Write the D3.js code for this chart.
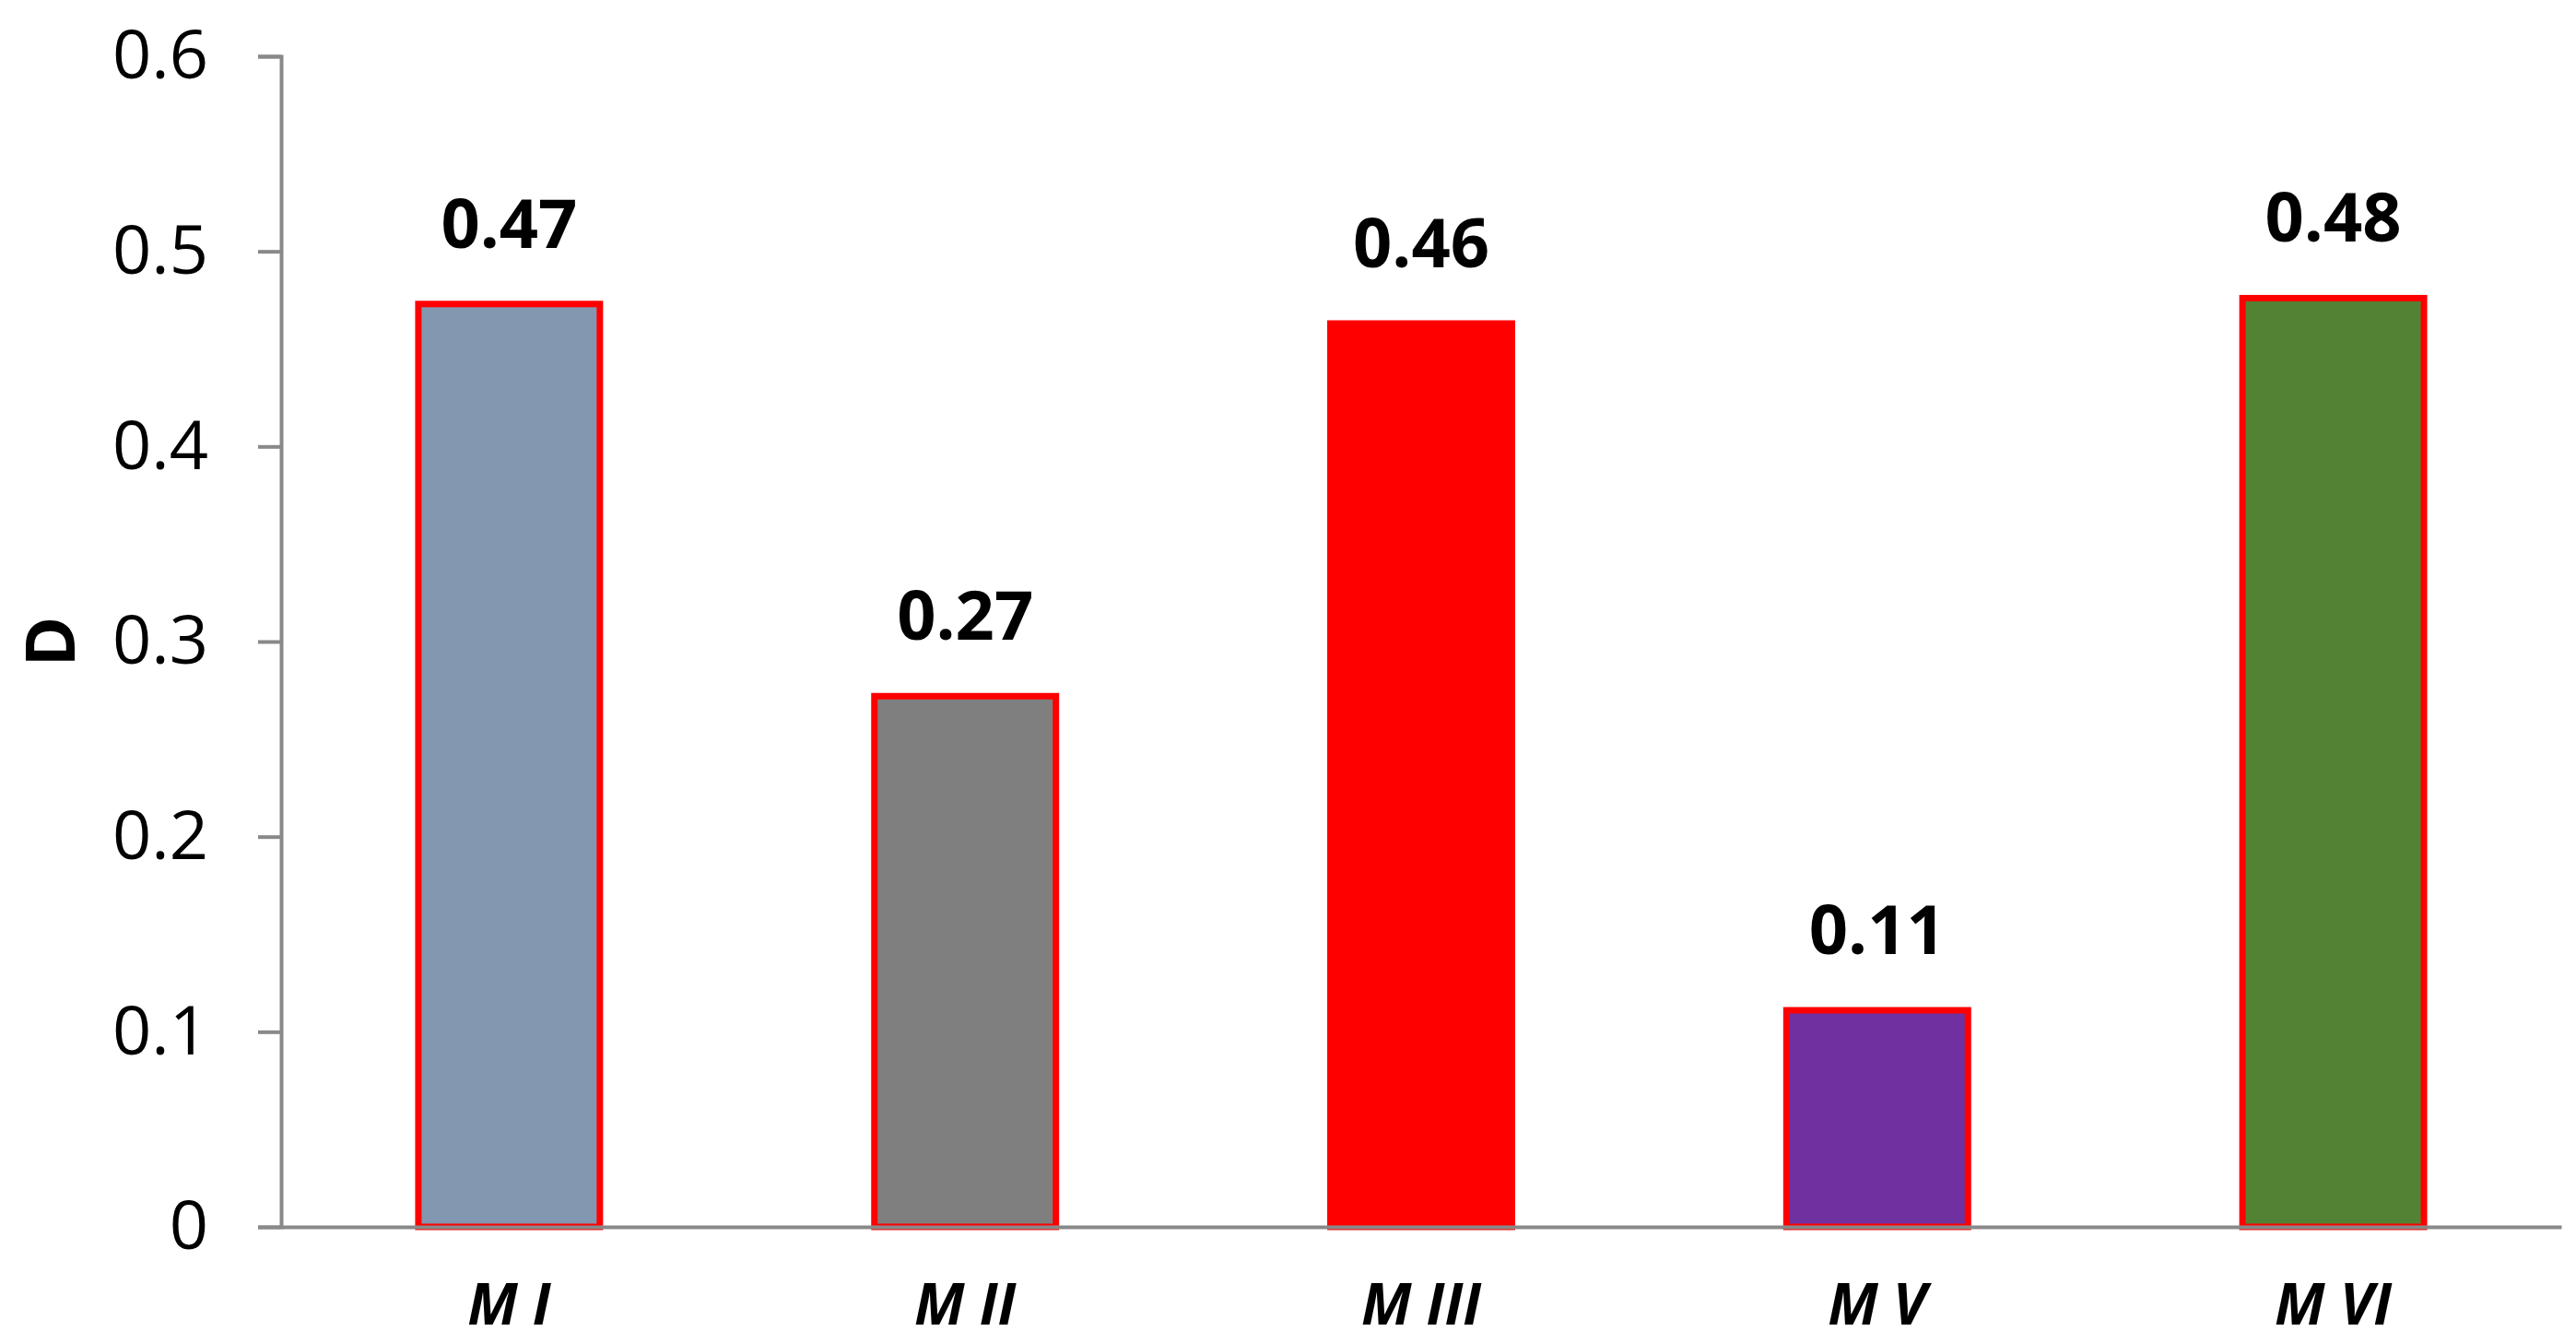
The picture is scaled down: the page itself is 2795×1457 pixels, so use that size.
<!DOCTYPE html>
<html>
<head>
<meta charset="utf-8">
<script src="https://cdn.jsdelivr.net/npm/d3@7"></script>
<style>
  body { margin: 0; background: #fff; }
  text { font-family: "Open Sans", sans-serif; fill: #000; }
</style>
</head>
<body>
<script>
const categories = ["M I", "M II", "M III", "M V", "M VI"];
const values = [0.473, 0.272, 0.463, 0.111, 0.476];
const barColors = ["#8497B0", "#7F7F7F", "#FF0000", "#7030A0", "#548235"];
const yTicks = [0, 0.1, 0.2, 0.3, 0.4, 0.5, 0.6];

const chart = {
    width: 2795,
    height: 1457,
    left: 305,
    right: 2779,
    top: 61,
    bottom: 1331
};

const axisColor = "#898989";

let svg = d3.select("body")
    .append("svg")
    .attr("width", chart.width)
    .attr("height", chart.height);

let x = d3.scaleBand()
    .domain(categories)
    .range([chart.left, chart.right])
    .paddingInner(0.602)
    .paddingOuter(0.301);

let y = d3.scaleLinear()
    .domain([0, 0.6])
    .range([chart.bottom, chart.top]);

let data = categories.map((c, i) => ({ name: c, value: values[i], color: barColors[i] }));

// bars
svg.append("g")
    .selectAll("rect")
    .data(data)
    .enter()
    .append("rect")
    .attr("x", d => x(d.name))
    .attr("y", d => y(d.value))
    .attr("width", x.bandwidth())
    .attr("height", d => y(0) - y(d.value))
    .attr("fill", d => d.color)
    .attr("stroke", "#FF0000")
    .attr("stroke-width", 7);

// value labels
svg.append("g")
    .selectAll("text")
    .data(data)
    .enter()
    .append("text")
    .attr("x", d => x(d.name) + x.bandwidth() / 2)
    .attr("y", d => y(d.value) - 61)
    .attr("text-anchor", "middle")
    .style("font-size", "74px")
    .style("font-weight", "bold")
    .text(d => d3.format(".2f")(d.value));

// y axis
let yAxis = svg.append("g")
    .attr("transform", "translate(" + chart.left + ",0)")
    .call(d3.axisLeft(y)
        .tickValues(yTicks)
        .tickFormat(d => d === 0 ? "0" : d3.format(".1f")(d))
        .tickSize(25)
        .tickPadding(54));
yAxis.select(".domain").attr("stroke", axisColor).attr("stroke-width", 4);
yAxis.selectAll(".tick line").attr("stroke", axisColor).attr("stroke-width", 4);
yAxis.selectAll(".tick text")
    .style("font-size", "74px")
    .style("font-family", "'Open Sans', sans-serif")
    .attr("fill", "#000");

// x axis
let xAxis = svg.append("g")
    .attr("transform", "translate(0," + chart.bottom + ")")
    .call(d3.axisBottom(x).tickSize(0).tickSizeOuter(0).tickPadding(106));
xAxis.select(".domain").attr("stroke", axisColor).attr("stroke-width", 4);
xAxis.selectAll(".tick text")
    .attr("dy", "0")
    .style("font-size", "62px")
    .style("font-family", "'Open Sans', sans-serif")
    .style("font-weight", "bold")
    .style("font-style", "italic")
    .attr("fill", "#000");

// y axis title
svg.append("text")
    .attr("transform", "translate(81," + (chart.top + chart.bottom) / 2 + ") rotate(-90)")
    .attr("text-anchor", "middle")
    .style("font-size", "74px")
    .style("font-weight", "bold")
    .text("D");
</script>
</body>
</html>
